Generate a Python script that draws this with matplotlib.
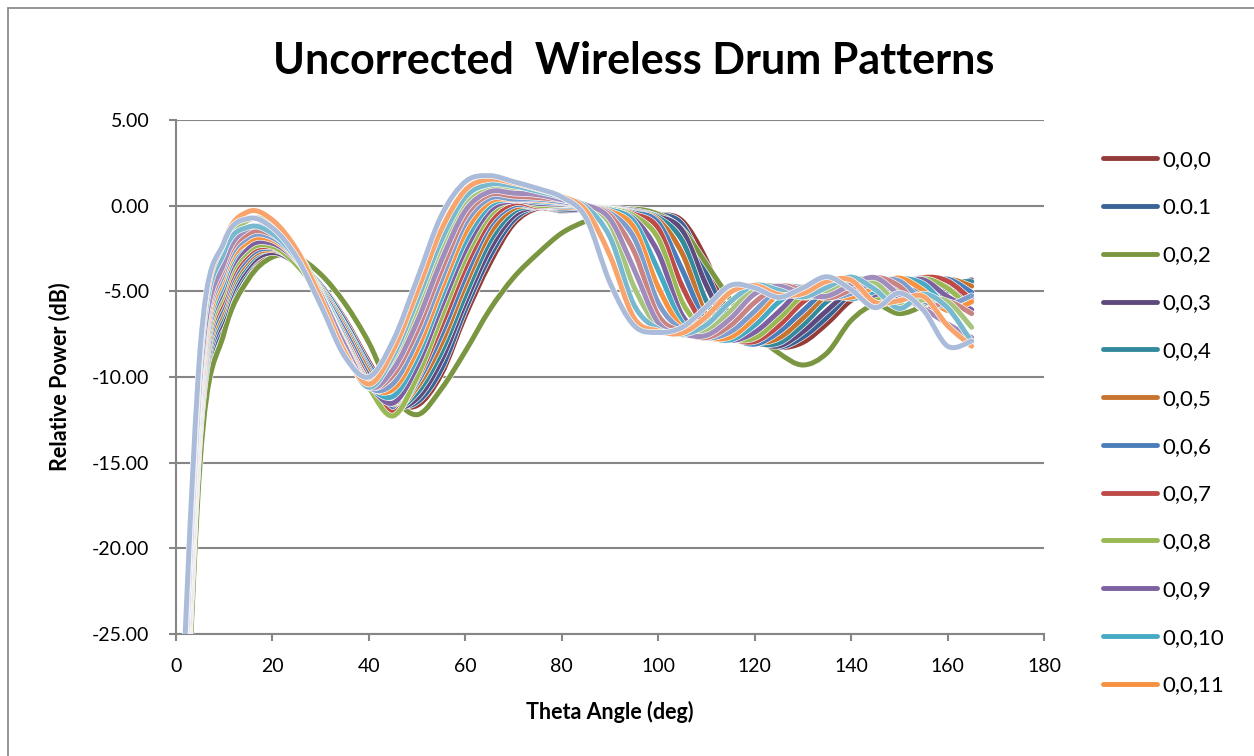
import matplotlib
matplotlib.use("Agg")
import matplotlib.pyplot as plt
from matplotlib.path import Path
from matplotlib.patches import PathPatch, Rectangle
from matplotlib.lines import Line2D
import matplotlib.patheffects as pe

plt.rcParams['font.family'] = ['Lato', 'DejaVu Sans']

theta = [0, 5, 10, 15, 20, 25, 30, 35, 40, 45, 50, 55, 60, 65, 70, 75, 80, 85,
         90, 95, 100, 105, 110, 115, 120, 125, 130, 135, 140, 145, 150, 155, 160, 165]

s0 = [-46, -13.9, -6.96, -3.89, -2.71, -3.32, -4.61, -6.62, -9.11, -11.29, -11.66, -9.85, -6.42, -3.41, -1.07, -0.15, -0.31, -0.19, -0.21, -0.23, -0.48, -0.89, -3.18, -6.53, -7.68, -8.26, -7.98, -6.88, -5.53, -4.9, -4.7, -4.2, -4.8, -5.4]
s1 = [-45, -13.7, -6.67, -3.68, -2.62, -3.27, -4.64, -6.75, -9.28, -11.47, -11.46, -9.55, -6.06, -3.01, -0.84, -0.07, -0.28, -0.21, -0.23, -0.25, -0.49, -1.1, -3.94, -6.92, -7.83, -8.26, -7.67, -6.51, -5.17, -4.89, -5.25, -5.5, -5.01, -4.35]
s2 = [-46, -15.0, -7.4, -4.3, -3.0, -3.0, -4.0, -5.7, -8.0, -11.0, -12.2, -10.7, -8.5, -6.1, -4.2, -2.8, -1.6, -0.9, -0.4, -0.2, -0.5, -1.4, -3.4, -5.5, -7.4, -8.6, -9.3, -8.6, -6.7, -5.8, -6.3, -5.8, -4.7, -4.5]
s3 = [-45, -13.4, -6.38, -3.56, -2.74, -3.4, -4.8, -6.95, -9.48, -11.65, -11.25, -9.05, -5.66, -2.6, -0.61, -0.06, -0.21, -0.19, -0.13, -0.28, -0.63, -1.46, -4.66, -7.24, -7.92, -8.19, -7.36, -6.12, -4.98, -4.9, -5.4, -5.35, -4.78, -4.33]
s4 = [-44, -13.1, -6.08, -3.33, -2.56, -3.27, -4.75, -7.01, -9.6, -11.72, -10.93, -8.57, -5.23, -2.13, -0.36, -0.02, -0.15, -0.07, -0.16, -0.34, -0.7, -2.05, -5.58, -7.43, -8.0, -8.02, -6.97, -5.59, -4.83, -5.0, -5.5, -5.15, -4.51, -4.43]
s5 = [-44, -12.8, -5.83, -3.17, -2.58, -3.32, -4.84, -7.15, -9.75, -11.8, -10.59, -8.07, -4.65, -1.67, -0.16, -0.04, -0.08, -0.09, -0.19, -0.38, -0.83, -2.8, -6.38, -7.49, -7.97, -7.73, -6.57, -5.22, -4.84, -5.2, -5.45, -4.94, -4.3, -4.7]
s6 = [-43, -12.5, -5.56, -3.0, -2.5, -3.32, -4.94, -7.33, -9.98, -11.92, -10.33, -7.55, -4.15, -1.21, 0.01, -0.08, -0.01, -0.08, -0.22, -0.42, -0.99, -3.76, -6.84, -7.67, -8.08, -7.38, -6.14, -4.93, -4.85, -5.38, -5.27, -4.67, -4.29, -5.06]
s7 = [-43, -12.2, -5.28, -2.81, -2.43, -3.34, -5.08, -7.58, -10.24, -12.07, -10.12, -7.03, -3.61, -0.94, 0.14, -0.05, 0.06, -0.03, -0.19, -0.5, -1.32, -4.72, -7.14, -7.75, -7.93, -7.01, -5.63, -4.8, -4.98, -5.46, -4.8, -4.2, -4.4, -5.5]
s8 = [-42, -11.9, -5.0, -2.63, -2.38, -3.46, -5.33, -7.97, -10.6, -12.27, -10.0, -6.52, -3.09, -0.59, 0.32, 0.02, 0.05, -0.01, -0.19, -0.6, -1.91, -5.64, -7.32, -7.78, -7.73, -6.61, -5.25, -4.8, -5.18, -5.41, -4.84, -4.27, -4.82, -6.09]
s9 = [-42, -11.6, -4.7, -2.41, -2.2, -3.2, -5.09, -7.76, -10.37, -11.52, -9.38, -5.92, -2.6, -0.31, 0.29, 0.13, 0.08, -0.01, -0.25, -0.78, -2.74, -6.41, -7.41, -7.87, -7.39, -6.19, -4.88, -4.83, -5.37, -5.21, -4.55, -4.33, -5.31, -6.07]
s10 = [-41, -11.25, -4.41, -2.07, -1.81, -2.97, -4.99, -7.76, -10.39, -11.13, -8.88, -5.38, -2.1, -0.02, 0.37, 0.23, 0.15, -0.02, -0.24, -0.94, -3.77, -6.82, -7.59, -7.83, -6.98, -5.63, -4.74, -4.94, -5.42, -4.99, -4.29, -4.57, -5.84, -5.64]
s11 = [-40, -10.95, -4.1, -2.09, -2.01, -3.14, -5.15, -7.93, -10.45, -10.72, -8.43, -4.9, -1.59, 0.21, 0.35, 0.32, 0.19, 0.0, -0.32, -1.29, -4.76, -7.15, -7.69, -7.67, -6.57, -5.15, -4.73, -5.16, -5.34, -4.73, -4.23, -4.96, -6.12, -5.6]
s12 = [-40, -10.6, -3.84, -1.85, -1.87, -3.08, -5.2, -8.06, -10.57, -10.39, -7.87, -4.36, -1.05, 0.42, 0.38, 0.38, 0.23, 0.02, -0.42, -1.88, -5.66, -7.27, -7.72, -7.36, -6.16, -4.83, -4.8, -5.35, -5.12, -4.44, -4.4, -5.56, -5.8, -5.25]
s13 = [-39, -10.3, -3.55, -1.63, -1.7, -2.96, -5.17, -8.05, -10.52, -9.9, -7.31, -3.8, -0.64, 0.64, 0.55, 0.47, 0.33, 0.03, -0.56, -2.68, -6.39, -7.36, -7.7, -6.99, -5.65, -4.71, -4.93, -5.4, -4.9, -4.2, -4.7, -6.05, -5.6, -6.3]
s14 = [-38, -9.5, -2.8, -0.84, -1.07, -2.58, -5.09, -8.15, -10.6, -9.16, -6.14, -2.65, 0.04, 0.92, 0.89, 0.73, 0.43, 0.0, -1.08, -4.75, -7.08, -7.54, -7.33, -6.15, -4.8, -4.75, -5.34, -5.05, -4.33, -4.47, -5.79, -5.5, -5.6, -7.1]
s15 = [-39, -10.0, -3.3, -1.34, -1.48, -2.85, -5.2, -8.15, -10.6, -9.57, -6.78, -3.23, -0.29, 0.81, 0.73, 0.64, 0.35, 0.04, -0.78, -3.72, -6.84, -7.47, -7.57, -6.58, -5.15, -4.7, -5.15, -5.28, -4.62, -4.2, -5.2, -6.0, -6.9, -7.7]
s16 = [-38, -9.2, -2.7, -1.25, -1.63, -3.1, -5.56, -8.5, -10.6, -8.8, -5.55, -2.05, 0.5, 1.24, 1.15, 0.84, 0.49, -0.07, -1.84, -5.8, -7.2, -7.5, -6.96, -5.6, -4.65, -4.93, -5.33, -4.77, -4.17, -4.9, -6.0, -5.16, -5.96, -7.96]
s17 = [-37, -8.7, -2.1, -0.35, -0.84, -2.57, -5.37, -8.53, -10.42, -8.47, -5.05, -1.42, 0.91, 1.53, 1.33, 0.97, 0.54, -0.27, -2.92, -6.56, -7.31, -7.43, -6.47, -5.05, -4.66, -5.19, -5.13, -4.41, -4.35, -5.65, -5.54, -5.3, -7.0, -8.2]
s18 = [-37, -8.4, -2.1, -0.75, -1.3, -3.0, -5.8, -8.8, -10.0, -7.9, -4.3, -0.6, 1.4, 1.75, 1.4, 1.0, 0.5, -0.7, -4.5, -7.0, -7.4, -7.1, -5.9, -4.65, -4.8, -5.35, -4.8, -4.15, -4.9, -5.95, -5.1, -6.1, -8.2, -7.9]

series = [s0, s1, s2, s3, s4, s5, s6, s7, s8, s9, s10, s11, s12, s13, s14, s15, s16, s17, s18]
labels = ["0,0,0", "0.0.1", "0,0,2", "0,0,3", "0,0,4", "0,0,5", "0,0,6", "0,0,7", "0,0,8",
          "0,0,9", "0,0,10", "0,0,11", "0,0,12", "0,0,13", "0,0,14", "0,0,15", "0,0,16",
          "0,0,17", "0,0,18"]
colors = ["#943C3A", "#3A6396", "#7A9640", "#5F4A7E", "#338A9C", "#C8742F",
          "#4A7EBB", "#BE4B48", "#98B954", "#7D60A0", "#46AAC5", "#F69240",
          "#7E9CCC", "#C98382", "#A7C47D", "#A08DBC", "#79B9D0", "#F8A46C", "#AABCDA"]

y_ticks = [5, 0, -5, -10, -15, -20, -25]
x_ticks = [0, 20, 40, 60, 80, 100, 120, 140, 160, 180]

W, H = 1254, 756
fig = plt.figure(figsize=(W / 100, H / 100), dpi=100)
fig.patch.set_facecolor('white')

# chart border
fig.add_artist(Rectangle((8 / W, -0.1), 1.5, 1 - 8 / H + 0.1, transform=fig.transFigure,
                         fill=False, edgecolor='#8C8C8C', linewidth=1.3))

ax = fig.add_axes([176 / W, 1 - 634 / H, (1044 - 176) / W, (634 - 120) / H])
ax.set_xlim(0, 180)
ax.set_ylim(-25, 5)

grid_c = '#868686'
for yv in y_ticks:
    ax.axhline(yv, color=grid_c, linewidth=1.5, zorder=1)


def smooth_path(x, y):
    n = len(x)
    verts = [(x[0], y[0])]
    codes = [Path.MOVETO]
    for i in range(n - 1):
        a = i - 1 if i > 0 else i
        d = i + 2 if i + 2 < n else i + 1
        c1 = (x[i] + (x[i + 1] - x[a]) / 6.0, y[i] + (y[i + 1] - y[a]) / 6.0)
        c2 = (x[i + 1] - (x[d] - x[i]) / 6.0, y[i + 1] - (y[d] - y[i]) / 6.0)
        verts += [c1, c2, (x[i + 1], y[i + 1])]
        codes += [Path.CURVE4] * 3
    return Path(verts, codes)


lw = 3.6
for i, (vals, col) in enumerate(zip(series, colors)):
    patch = PathPatch(smooth_path(theta, vals), facecolor='none', edgecolor=col,
                      linewidth=lw, capstyle='round', joinstyle='round', zorder=3 + i * 0.01)
    patch.set_path_effects([pe.Stroke(linewidth=lw + 0.9, foreground='white'), pe.Normal()])
    ax.add_patch(patch)

ax.set_yticks(y_ticks)
ax.set_yticklabels([f"{v:.2f}" for v in y_ticks])
ax.set_xticks(x_ticks)
ax.set_xticklabels([str(v) for v in x_ticks])
ax.tick_params(axis='both', direction='out', length=5, width=1.5, color=grid_c,
               labelsize=14, labelcolor='black')
ax.tick_params(axis='y', pad=14)
ax.tick_params(axis='x', pad=12)
for side in ['top', 'right']:
    ax.spines[side].set_visible(False)
for side in ['left', 'bottom']:
    ax.spines[side].set_color(grid_c)
    ax.spines[side].set_linewidth(1.5)
    ax.spines[side].set_zorder(2)

fig.text(634 / W, 1 - 61 / H, "Uncorrected  Wireless Drum Patterns", ha='center', va='center',
         fontsize=31, fontweight='bold')
fig.text(60 / W, 1 - 377 / H, "Relative Power (dB)", ha='center', va='center', rotation=90,
         fontsize=15.5, fontweight='bold')
fig.text(610 / W, 1 - 712 / H, "Theta Angle (deg)", ha='center', va='center',
         fontsize=15.5, fontweight='bold')

handles = [Line2D([0], [0], color=colors[i], linewidth=3.5, solid_capstyle='round')
           for i in range(12)]
ax.legend(handles=handles, labels=labels[:12], loc='upper left',
          bbox_to_anchor=(1103 / W, 1 - 150 / H), bbox_transform=fig.transFigure,
          frameon=False, fontsize=16, handlelength=2.45, handletextpad=0.22,
          labelspacing=1.25, borderaxespad=0, borderpad=0)

fig.savefig("out.png", dpi=100, facecolor='white')
